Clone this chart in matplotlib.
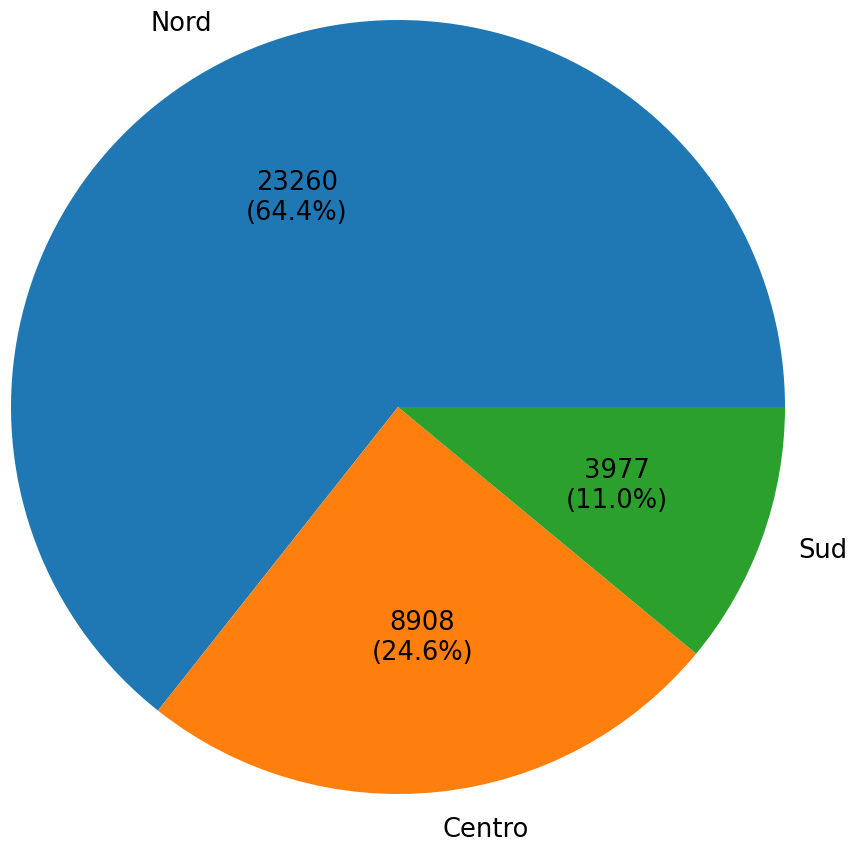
import matplotlib
matplotlib.use("Agg")
import matplotlib.pyplot as plt

labels = ["Nord", "Centro", "Sud"]
values = [23260, 8908, 3977]


def fmt(pct):
    total = sum(values)
    val = int(round(pct * total / 100.0))
    return "{}\n({:.1f}%)".format(val, pct)


fig = plt.figure(figsize=(8.51, 8.44), dpi=100)
r = 387
cx, cy = 398, 844 - 407
ax = fig.add_axes([(cx - r) / 851, (cy - r) / 844, 2 * r / 851, 2 * r / 844])
ax.pie(values, labels=labels, autopct=fmt,
       textprops={"fontsize": 18.5})
ax.set_xlim(-1, 1)
ax.set_ylim(-1, 1)
ax.set_aspect("equal")
fig.savefig("out.png", dpi=100)
